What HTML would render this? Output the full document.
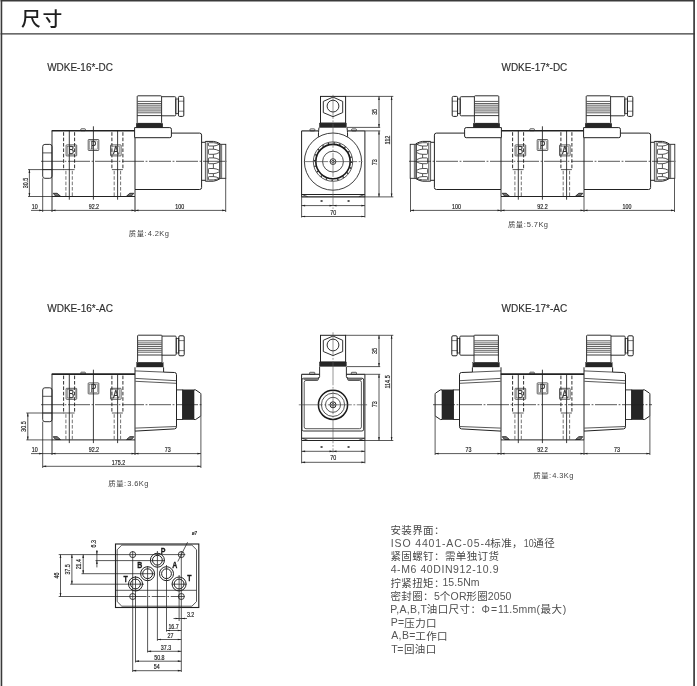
<!DOCTYPE html>
<html lang="zh"><head><meta charset="utf-8"><title>尺寸</title>
<style>
html,body{margin:0;padding:0;background:#fff;}
body{width:697px;height:686px;overflow:hidden;}
svg{display:block;filter:grayscale(1) blur(0.35px);}
text{font-family:"Liberation Sans","Noto Sans CJK SC",sans-serif;}
</style></head><body>
<svg width="697" height="686" viewBox="0 0 697 686">
<rect x="0" y="0" width="697" height="686" fill="#fff"/>
<line x1="1.45" y1="0" x2="1.45" y2="686" stroke="#3a3a3a" stroke-width="1.6"/>
<line x1="694.1" y1="0" x2="694.1" y2="686" stroke="#3a3a3a" stroke-width="1.7"/>
<line x1="0.6" y1="0.7" x2="694.9" y2="0.7" stroke="#3a3a3a" stroke-width="1.7"/>
<line x1="0.6" y1="33.8" x2="694.9" y2="33.8" stroke="#3a3a3a" stroke-width="1.2"/>
<text x="21" y="26" font-size="19.8" text-anchor="start" fill="#1e1e1e" font-weight="500" class="cjk" letter-spacing="1.8">尺寸</text>
<text x="47.2" y="70.7" font-size="10" text-anchor="start" fill="#2e2e2e" stroke="#2e2e2e" stroke-width="0.15" class="lat" textLength="65.8" lengthAdjust="spacingAndGlyphs">WDKE-16*-DC</text>
<text x="501.5" y="70.7" font-size="10" text-anchor="start" fill="#2e2e2e" stroke="#2e2e2e" stroke-width="0.15" class="lat" textLength="65.8" lengthAdjust="spacingAndGlyphs">WDKE-17*-DC</text>
<text x="47.2" y="311.7" font-size="10" text-anchor="start" fill="#2e2e2e" stroke="#2e2e2e" stroke-width="0.15" class="lat" textLength="65.8" lengthAdjust="spacingAndGlyphs">WDKE-16*-AC</text>
<text x="501.5" y="311.7" font-size="10" text-anchor="start" fill="#2e2e2e" stroke="#2e2e2e" stroke-width="0.15" class="lat" textLength="65.8" lengthAdjust="spacingAndGlyphs">WDKE-17*-AC</text>
<line x1="52" y1="130.7" x2="52" y2="196.5" stroke="#222" stroke-width="0.94"/>
<line x1="135" y1="189.5" x2="135" y2="196.5" stroke="#222" stroke-width="0.94"/>
<line x1="51.7" y1="130.7" x2="135" y2="130.7" stroke="#222" stroke-width="1.62"/>
<line x1="52" y1="196.5" x2="135" y2="196.5" stroke="#222" stroke-width="1"/>
<rect x="80.8" y="128.8" width="4.6" height="1.9" rx="0.6" stroke="#222" stroke-width="0.75" fill="none"/>
<line x1="63.6" y1="132.2" x2="63.6" y2="169.6" stroke="#222" stroke-width="0.94" stroke-dasharray="3.6 1.8"/>
<line x1="74.6" y1="132.2" x2="74.6" y2="169.6" stroke="#222" stroke-width="0.94" stroke-dasharray="3.6 1.8"/>
<line x1="65.9" y1="170.8" x2="65.9" y2="196.5" stroke="#444" stroke-width="0.75" stroke-dasharray="3.6 1.8"/>
<line x1="72.3" y1="170.8" x2="72.3" y2="196.5" stroke="#444" stroke-width="0.75" stroke-dasharray="3.6 1.8"/>
<line x1="63.6" y1="169.6" x2="74.6" y2="169.6" stroke="#222" stroke-width="0.75"/>
<line x1="69.3" y1="130.7" x2="69.3" y2="199.7" stroke="#222" stroke-width="0.88"/>
<line x1="111.9" y1="132.2" x2="111.9" y2="169.6" stroke="#222" stroke-width="0.94" stroke-dasharray="3.6 1.8"/>
<line x1="122.9" y1="132.2" x2="122.9" y2="169.6" stroke="#222" stroke-width="0.94" stroke-dasharray="3.6 1.8"/>
<line x1="114.2" y1="170.8" x2="114.2" y2="196.5" stroke="#444" stroke-width="0.75" stroke-dasharray="3.6 1.8"/>
<line x1="120.6" y1="170.8" x2="120.6" y2="196.5" stroke="#444" stroke-width="0.75" stroke-dasharray="3.6 1.8"/>
<line x1="111.9" y1="169.6" x2="122.9" y2="169.6" stroke="#222" stroke-width="0.75"/>
<line x1="117.6" y1="130.7" x2="117.6" y2="199.7" stroke="#222" stroke-width="0.88"/>
<line x1="93.4" y1="126.3" x2="93.4" y2="199.7" stroke="#222" stroke-width="0.88"/>
<rect x="66.1" y="144.9" width="10.6" height="11" rx="0.6" stroke="#2a2a2a" stroke-width="0.75" fill="none"/>
<rect x="67.5" y="146.3" width="7.8" height="8.2" stroke="#555" stroke-width="0.5" fill="none"/>
<text transform="translate(71.4 154.1) scale(0.8 1)" x="0" y="0" font-size="10.6" text-anchor="middle" fill="#333" stroke="#333" stroke-width="0.3" class="lat">B</text>
<rect x="88.2" y="139.5" width="10.6" height="11" rx="0.6" stroke="#2a2a2a" stroke-width="0.75" fill="none"/>
<rect x="89.6" y="140.9" width="7.8" height="8.2" stroke="#555" stroke-width="0.5" fill="none"/>
<text transform="translate(93.5 148.7) scale(0.8 1)" x="0" y="0" font-size="10.6" text-anchor="middle" fill="#333" stroke="#333" stroke-width="0.3" class="lat">P</text>
<rect x="110.5" y="144.9" width="10.6" height="11" rx="0.6" stroke="#2a2a2a" stroke-width="0.75" fill="none"/>
<rect x="111.9" y="146.3" width="7.8" height="8.2" stroke="#555" stroke-width="0.5" fill="none"/>
<text transform="translate(115.8 154.1) scale(0.8 1)" x="0" y="0" font-size="10.6" text-anchor="middle" fill="#333" stroke="#333" stroke-width="0.3" class="lat">A</text>
<path d="M53.2 193.3 L57.2 193.3 L60.4 196.1 L55.6 196.1 Z" stroke="#222" stroke-width="0.88" fill="#777"/>
<path d="M133.8 193.3 L129.8 193.3 L126.6 196.1 L131.4 196.1 Z" stroke="#222" stroke-width="0.88" fill="#777"/>
<rect x="42.7" y="144.4" width="9.3" height="33.9" rx="2.2" stroke="#222" stroke-width="0.94" fill="none"/>
<line x1="42.7" y1="152.9" x2="52" y2="152.9" stroke="#222" stroke-width="0.75"/>
<line x1="42.7" y1="169.6" x2="52" y2="169.6" stroke="#222" stroke-width="0.75"/>
<g transform="translate(135 161.3) scale(1 1)">
<path d="M0 -23.6 L0 28.2 L64.6 28.2 Q66.6 28.2 66.6 26.2 L66.6 -26.2 Q66.6 -28.2 64.6 -28.2 L36.4 -28.2" stroke="#222" stroke-width="1" fill="none"/>
<path d="M-0.4 -33.7 L34.8 -33.7 Q36.4 -33.7 36.4 -32 L36.4 -25.3 Q36.4 -23.6 34.8 -23.6 L-0.4 -23.6 Z" stroke="#222" stroke-width="1" fill="#fff"/>
<g transform="translate(66.6 0)">
<path d="M0 -19 L3.8 -19 L3.8 -19.9 L11.8 -19.9 Q15.5 -19.4 18.4 -17.6 L18.4 17.4 Q15.5 19.4 11.8 19.9 L3.8 19.9 L3.8 19 L0 19" stroke="#222" stroke-width="1" fill="none"/>
<line x1="3.8" y1="-19" x2="3.8" y2="19" stroke="#222" stroke-width="0.75"/>
<line x1="5.6" y1="-19" x2="5.6" y2="19" stroke="#222" stroke-width="0.75"/>
<rect x="18.4" y="-17" width="5.8" height="34" stroke="#222" stroke-width="0.88" fill="none"/>
<rect x="18.4" y="-17" width="1.9" height="34" stroke="#222" stroke-width="0.38" fill="#999"/>
<path d="M17.6 -16.9 Q14.5 -18.6 11.8 -18.6 L7.6 -18.6 Q6.8 -18.6 6.8 -17.8 L6.8 -16.1 Q6.8 -15.3 7.6 -15.3 L11.8 -15.3 Q14.5 -15.3 17.6 -17" stroke="#222" stroke-width="0.78" fill="none"/>
<path d="M17.6 -10.4 Q14.5 -12.1 11.8 -12.1 L7.6 -12.1 Q6.8 -12.1 6.8 -11.3 L6.8 -7.8 Q6.8 -7 7.6 -7 L11.8 -7 Q14.5 -7 17.6 -8.7" stroke="#222" stroke-width="0.78" fill="none"/>
<path d="M17.6 -1.7 Q14.5 -3.4 11.8 -3.4 L7.6 -3.4 Q6.8 -3.4 6.8 -2.6 L6.8 1.6 Q6.8 2.4 7.6 2.4 L11.8 2.4 Q14.5 2.4 17.6 0.7" stroke="#222" stroke-width="0.78" fill="none"/>
<path d="M17.6 8.9 Q14.5 7.2 11.8 7.2 L7.6 7.2 Q6.8 7.2 6.8 8 L6.8 11.5 Q6.8 12.3 7.6 12.3 L11.8 12.3 Q14.5 12.3 17.6 10.6" stroke="#222" stroke-width="0.78" fill="none"/>
<path d="M17.6 17 Q14.5 15.3 11.8 15.3 L7.6 15.3 Q6.8 15.3 6.8 16.1 L6.8 17.8 Q6.8 18.6 7.6 18.6 L11.8 18.6 Q14.5 18.6 17.6 16.9" stroke="#222" stroke-width="0.78" fill="none"/>
<line x1="11.8" y1="-15.3" x2="11.8" y2="-12.1" stroke="#222" stroke-width="0.75"/>
<line x1="11.8" y1="-7" x2="11.8" y2="-3.4" stroke="#222" stroke-width="0.75"/>
<line x1="11.8" y1="2.4" x2="11.8" y2="7.2" stroke="#222" stroke-width="0.75"/>
<line x1="11.8" y1="12.3" x2="11.8" y2="15.3" stroke="#222" stroke-width="0.75"/>
</g>
</g>
<g transform="translate(137.2 95.8) scale(1 1)">
<rect x="0" y="0" width="24.4" height="27.6" rx="0.8" stroke="#222" stroke-width="0.94" fill="none"/>
<line x1="0.3" y1="5.6" x2="24.1" y2="5.6" stroke="#333" stroke-width="0.78"/>
<line x1="0.3" y1="7.7" x2="24.1" y2="7.7" stroke="#333" stroke-width="0.78"/>
<line x1="0.3" y1="9.4" x2="24.1" y2="9.4" stroke="#333" stroke-width="0.78"/>
<line x1="0.3" y1="11.3" x2="24.1" y2="11.3" stroke="#333" stroke-width="0.78"/>
<line x1="0.3" y1="13.2" x2="24.1" y2="13.2" stroke="#333" stroke-width="0.78"/>
<line x1="0.3" y1="15.1" x2="24.1" y2="15.1" stroke="#333" stroke-width="0.78"/>
<line x1="0.3" y1="17" x2="24.1" y2="17" stroke="#333" stroke-width="0.78"/>
<line x1="0" y1="19.8" x2="24.4" y2="19.8" stroke="#222" stroke-width="0.88"/>
<rect x="-1" y="27.6" width="26.6" height="4.2" stroke="#222" stroke-width="0.38" fill="#262626"/>
<path d="M24.4 0.9 L37.6 0.9 Q38.6 0.9 38.6 1.9 L38.6 19 Q38.6 20 37.6 20 L24.4 20" stroke="#222" stroke-width="0.94" fill="none"/>
<rect x="38.6" y="3.2" width="2.6" height="14.6" stroke="#222" stroke-width="0.75" fill="none"/>
<rect x="41.2" y="0.6" width="5.4" height="20" rx="1.2" stroke="#222" stroke-width="1" fill="none"/>
<line x1="41.2" y1="5.4" x2="46.6" y2="5.4" stroke="#222" stroke-width="0.62"/>
<line x1="41.2" y1="15.4" x2="46.6" y2="15.4" stroke="#222" stroke-width="0.62"/>
</g>
<line x1="41" y1="161.3" x2="227" y2="161.3" stroke="#222" stroke-width="0.75" stroke-dasharray="22 1.6 1.8 1.6"/>
<line x1="28" y1="169.6" x2="64" y2="169.6" stroke="#222" stroke-width="0.75"/>
<line x1="28" y1="196.5" x2="52" y2="196.5" stroke="#222" stroke-width="0.75"/>
<line x1="29.4" y1="169.6" x2="29.4" y2="196.5" stroke="#222" stroke-width="0.75"/>
<polygon points="29.4,169.6 28.55,173.1 30.25,173.1" fill="#222"/>
<polygon points="29.4,196.5 28.55,193 30.25,193" fill="#222"/>
<text x="27.6" y="183.05" font-size="6.5" text-anchor="middle" fill="#1c1c1c" stroke="#1c1c1c" stroke-width="0.18" class="dim" transform="rotate(-90 27.6 183.05)" textLength="10.37" lengthAdjust="spacingAndGlyphs">30.5</text>
<line x1="42.7" y1="178.3" x2="42.7" y2="212" stroke="#222" stroke-width="0.75"/>
<line x1="52" y1="196.5" x2="52" y2="212" stroke="#222" stroke-width="0.94"/>
<line x1="135" y1="196.5" x2="135" y2="212" stroke="#222" stroke-width="0.94"/>
<line x1="225.7" y1="178.3" x2="225.7" y2="212" stroke="#222" stroke-width="0.75"/>
<line x1="31" y1="210.4" x2="225.7" y2="210.4" stroke="#222" stroke-width="0.75"/>
<polygon points="42.7,210.4 39.2,209.55 39.2,211.25" fill="#222"/>
<polygon points="52,210.4 55.5,209.55 55.5,211.25" fill="#222"/>
<polygon points="135,210.4 131.5,209.55 131.5,211.25" fill="#222"/>
<polygon points="135,210.4 138.5,209.55 138.5,211.25" fill="#222"/>
<polygon points="225.7,210.4 222.2,209.55 222.2,211.25" fill="#222"/>
<text x="34.8" y="208.7" font-size="6.5" text-anchor="middle" fill="#1c1c1c" stroke="#1c1c1c" stroke-width="0.18" class="dim" textLength="5.93" lengthAdjust="spacingAndGlyphs">10</text>
<text x="93.9" y="208.7" font-size="6.5" text-anchor="middle" fill="#1c1c1c" stroke="#1c1c1c" stroke-width="0.18" class="dim" textLength="10.37" lengthAdjust="spacingAndGlyphs">92.2</text>
<text x="179.8" y="208.7" font-size="6.5" text-anchor="middle" fill="#1c1c1c" stroke="#1c1c1c" stroke-width="0.18" class="dim" textLength="8.89" lengthAdjust="spacingAndGlyphs">100</text>
<text font-size="7.4" text-anchor="start" class="note"><tspan x="128.75" y="235.6" font-size="7.3" fill="#3a3a3a" textLength="15.2" lengthAdjust="spacing">质量</tspan><tspan x="144.55" y="235.6" font-size="7.5" fill="#444">: </tspan><tspan x="147.65" y="235.6" font-size="7.5" fill="#444" textLength="21.2" lengthAdjust="spacing">4.2Kg</tspan></text>
<rect x="320.5" y="96.4" width="25.1" height="26.7" stroke="#222" stroke-width="1" fill="none"/>
<rect x="319.4" y="123.1" width="27" height="4.4" stroke="#222" stroke-width="0.38" fill="#262626"/>
<polygon points="333,97.1 342.7,101.4 342.7,112.6 333,116.7 323.3,112.6 323.3,101.4" fill="none" stroke="#222" stroke-width="0.94" stroke-linejoin="round"/>
<circle cx="333" cy="106.1" r="5.9" stroke="#222" stroke-width="0.94" fill="none"/>
<line x1="301.6" y1="130.9" x2="301.6" y2="196.9" stroke="#222" stroke-width="1"/>
<line x1="364.9" y1="130.9" x2="364.9" y2="196.9" stroke="#222" stroke-width="1"/>
<line x1="301.6" y1="130.9" x2="318.6" y2="130.9" stroke="#222" stroke-width="1.12"/>
<line x1="347.4" y1="130.9" x2="364.9" y2="130.9" stroke="#222" stroke-width="1.12"/>
<line x1="301.6" y1="194.5" x2="364.9" y2="194.5" stroke="#222" stroke-width="1"/>
<line x1="301.6" y1="196.9" x2="364.9" y2="196.9" stroke="#222" stroke-width="1.12"/>
<rect x="310" y="128.9" width="4.8" height="2" rx="0.6" stroke="#222" stroke-width="0.75" fill="none"/>
<rect x="351.6" y="128.9" width="4.8" height="2" rx="0.6" stroke="#222" stroke-width="0.75" fill="none"/>
<path d="M319 127.6 Q318.6 130.6 318.5 132.6 L318.4 136.8" stroke="#222" stroke-width="1" fill="none"/>
<path d="M347 127.6 Q347.4 130.6 347.5 132.6 L347.6 136.8" stroke="#222" stroke-width="1" fill="none"/>
<circle cx="333" cy="161.6" r="28.6" stroke="#222" stroke-width="0.88" fill="none"/>
<circle cx="333" cy="161.6" r="19.7" stroke="#222" stroke-width="0.75" fill="none"/>
<circle cx="333" cy="161.6" r="18.6" fill="none" stroke="#333" stroke-width="1.5" stroke-dasharray="1.4 4.44"/>
<circle cx="333" cy="161.6" r="17.2" stroke="#1a1a1a" stroke-width="1.62" fill="none"/>
<circle cx="333" cy="161.6" r="10.4" stroke="#222" stroke-width="0.81" fill="none"/>
<circle cx="333" cy="161.6" r="2.9" stroke="#222" stroke-width="0.88" fill="none"/>
<circle cx="333" cy="161.6" r="1.3" stroke="#222" stroke-width="0.75" fill="none"/>
<line x1="333" y1="94.8" x2="333" y2="208.9" stroke="#555" stroke-width="0.62" stroke-dasharray="24 1.6 1.8 1.6"/>
<line x1="304.1" y1="161.6" x2="362.4" y2="161.6" stroke="#444" stroke-width="0.69" stroke-dasharray="24 1.6 1.8 1.6"/>
<path d="M302.6 194.8 L307.6 196.6" stroke="#222" stroke-width="0.75" fill="none"/>
<path d="M363.9 194.8 L358.9 196.6" stroke="#222" stroke-width="0.75" fill="none"/>
<line x1="345.5" y1="96.4" x2="393.3" y2="96.4" stroke="#222" stroke-width="0.75"/>
<line x1="346.8" y1="127.4" x2="380.2" y2="127.4" stroke="#222" stroke-width="0.75"/>
<line x1="364.9" y1="130.9" x2="380.2" y2="130.9" stroke="#222" stroke-width="0.75"/>
<line x1="364.9" y1="196.9" x2="393.3" y2="196.9" stroke="#222" stroke-width="0.75"/>
<line x1="379" y1="96.4" x2="379" y2="127.4" stroke="#222" stroke-width="0.75"/>
<polygon points="379,96.4 378.15,99.9 379.85,99.9" fill="#222"/>
<polygon points="379,127.4 378.15,123.9 379.85,123.9" fill="#222"/>
<text x="376.8" y="111.9" font-size="6.5" text-anchor="middle" fill="#1c1c1c" stroke="#1c1c1c" stroke-width="0.18" class="dim" transform="rotate(-90 376.8 111.9)" textLength="5.93" lengthAdjust="spacingAndGlyphs">35</text>
<line x1="379" y1="130.9" x2="379" y2="196.9" stroke="#222" stroke-width="0.75"/>
<polygon points="379,130.9 378.15,134.4 379.85,134.4" fill="#222"/>
<polygon points="379,196.9 378.15,193.4 379.85,193.4" fill="#222"/>
<text x="376.8" y="162.3" font-size="6.5" text-anchor="middle" fill="#1c1c1c" stroke="#1c1c1c" stroke-width="0.18" class="dim" transform="rotate(-90 376.8 162.3)" textLength="5.93" lengthAdjust="spacingAndGlyphs">73</text>
<line x1="391.6" y1="96.4" x2="391.6" y2="196.9" stroke="#222" stroke-width="0.75"/>
<polygon points="391.6,96.4 390.75,99.9 392.45,99.9" fill="#222"/>
<polygon points="391.6,196.9 390.75,193.4 392.45,193.4" fill="#222"/>
<text x="389.6" y="140.05" font-size="6.5" text-anchor="middle" fill="#1c1c1c" stroke="#1c1c1c" stroke-width="0.18" class="dim" transform="rotate(-90 389.6 140.05)" textLength="8.89" lengthAdjust="spacingAndGlyphs">112</text>
<line x1="301.6" y1="196.9" x2="301.6" y2="217.5" stroke="#222" stroke-width="0.75"/>
<line x1="364.9" y1="196.9" x2="364.9" y2="217.5" stroke="#222" stroke-width="0.75"/>
<line x1="301.6" y1="205.6" x2="364.9" y2="205.6" stroke="#222" stroke-width="0.75"/>
<polygon points="301.6,205.6 305.1,204.75 305.1,206.45" fill="#222"/>
<polygon points="364.9,205.6 361.4,204.75 361.4,206.45" fill="#222"/>
<polygon points="333,205.6 336.5,204.75 336.5,206.45" fill="#222"/>
<polygon points="333,205.6 329.5,204.75 329.5,206.45" fill="#222"/>
<text x="321.6" y="203.2" font-size="4.5" text-anchor="middle" fill="#1c1c1c" stroke="#1c1c1c" stroke-width="0.18" class="dim" textLength="2.15" lengthAdjust="spacingAndGlyphs">=</text>
<text x="348.6" y="203.2" font-size="4.5" text-anchor="middle" fill="#1c1c1c" stroke="#1c1c1c" stroke-width="0.18" class="dim" textLength="2.15" lengthAdjust="spacingAndGlyphs">=</text>
<line x1="301.6" y1="216.5" x2="364.9" y2="216.5" stroke="#222" stroke-width="0.75"/>
<polygon points="301.6,216.5 305.1,215.65 305.1,217.35" fill="#222"/>
<polygon points="364.9,216.5 361.4,215.65 361.4,217.35" fill="#222"/>
<text x="333.25" y="214.5" font-size="6.5" text-anchor="middle" fill="#1c1c1c" stroke="#1c1c1c" stroke-width="0.18" class="dim" textLength="5.93" lengthAdjust="spacingAndGlyphs">70</text>
<line x1="501" y1="189.5" x2="501" y2="196.5" stroke="#222" stroke-width="0.94"/>
<line x1="584" y1="189.5" x2="584" y2="196.5" stroke="#222" stroke-width="0.94"/>
<line x1="500.7" y1="130.7" x2="584" y2="130.7" stroke="#222" stroke-width="1.62"/>
<line x1="501" y1="196.5" x2="584" y2="196.5" stroke="#222" stroke-width="1"/>
<rect x="529.8" y="128.8" width="4.6" height="1.9" rx="0.6" stroke="#222" stroke-width="0.75" fill="none"/>
<line x1="512.6" y1="132.2" x2="512.6" y2="169.6" stroke="#222" stroke-width="0.94" stroke-dasharray="3.6 1.8"/>
<line x1="523.6" y1="132.2" x2="523.6" y2="169.6" stroke="#222" stroke-width="0.94" stroke-dasharray="3.6 1.8"/>
<line x1="514.9" y1="170.8" x2="514.9" y2="196.5" stroke="#444" stroke-width="0.75" stroke-dasharray="3.6 1.8"/>
<line x1="521.3" y1="170.8" x2="521.3" y2="196.5" stroke="#444" stroke-width="0.75" stroke-dasharray="3.6 1.8"/>
<line x1="512.6" y1="169.6" x2="523.6" y2="169.6" stroke="#222" stroke-width="0.75"/>
<line x1="518.3" y1="130.7" x2="518.3" y2="199.7" stroke="#222" stroke-width="0.88"/>
<line x1="560.9" y1="132.2" x2="560.9" y2="169.6" stroke="#222" stroke-width="0.94" stroke-dasharray="3.6 1.8"/>
<line x1="571.9" y1="132.2" x2="571.9" y2="169.6" stroke="#222" stroke-width="0.94" stroke-dasharray="3.6 1.8"/>
<line x1="563.2" y1="170.8" x2="563.2" y2="196.5" stroke="#444" stroke-width="0.75" stroke-dasharray="3.6 1.8"/>
<line x1="569.6" y1="170.8" x2="569.6" y2="196.5" stroke="#444" stroke-width="0.75" stroke-dasharray="3.6 1.8"/>
<line x1="560.9" y1="169.6" x2="571.9" y2="169.6" stroke="#222" stroke-width="0.75"/>
<line x1="566.6" y1="130.7" x2="566.6" y2="199.7" stroke="#222" stroke-width="0.88"/>
<line x1="542.4" y1="126.3" x2="542.4" y2="199.7" stroke="#222" stroke-width="0.88"/>
<rect x="515.1" y="144.9" width="10.6" height="11" rx="0.6" stroke="#2a2a2a" stroke-width="0.75" fill="none"/>
<rect x="516.5" y="146.3" width="7.8" height="8.2" stroke="#555" stroke-width="0.5" fill="none"/>
<text transform="translate(520.4 154.1) scale(0.8 1)" x="0" y="0" font-size="10.6" text-anchor="middle" fill="#333" stroke="#333" stroke-width="0.3" class="lat">B</text>
<rect x="537.2" y="139.5" width="10.6" height="11" rx="0.6" stroke="#2a2a2a" stroke-width="0.75" fill="none"/>
<rect x="538.6" y="140.9" width="7.8" height="8.2" stroke="#555" stroke-width="0.5" fill="none"/>
<text transform="translate(542.5 148.7) scale(0.8 1)" x="0" y="0" font-size="10.6" text-anchor="middle" fill="#333" stroke="#333" stroke-width="0.3" class="lat">P</text>
<rect x="559.5" y="144.9" width="10.6" height="11" rx="0.6" stroke="#2a2a2a" stroke-width="0.75" fill="none"/>
<rect x="560.9" y="146.3" width="7.8" height="8.2" stroke="#555" stroke-width="0.5" fill="none"/>
<text transform="translate(564.8 154.1) scale(0.8 1)" x="0" y="0" font-size="10.6" text-anchor="middle" fill="#333" stroke="#333" stroke-width="0.3" class="lat">A</text>
<path d="M502.2 193.3 L506.2 193.3 L509.4 196.1 L504.6 196.1 Z" stroke="#222" stroke-width="0.88" fill="#777"/>
<path d="M582.8 193.3 L578.8 193.3 L575.6 196.1 L580.4 196.1 Z" stroke="#222" stroke-width="0.88" fill="#777"/>
<g transform="translate(501 161.3) scale(-1 1)">
<path d="M0 -23.6 L0 28.2 L64.6 28.2 Q66.6 28.2 66.6 26.2 L66.6 -26.2 Q66.6 -28.2 64.6 -28.2 L36.4 -28.2" stroke="#222" stroke-width="1" fill="none"/>
<path d="M-0.4 -33.7 L34.8 -33.7 Q36.4 -33.7 36.4 -32 L36.4 -25.3 Q36.4 -23.6 34.8 -23.6 L-0.4 -23.6 Z" stroke="#222" stroke-width="1" fill="#fff"/>
<g transform="translate(66.6 0)">
<path d="M0 -19 L3.8 -19 L3.8 -19.9 L11.8 -19.9 Q15.5 -19.4 18.4 -17.6 L18.4 17.4 Q15.5 19.4 11.8 19.9 L3.8 19.9 L3.8 19 L0 19" stroke="#222" stroke-width="1" fill="none"/>
<line x1="3.8" y1="-19" x2="3.8" y2="19" stroke="#222" stroke-width="0.75"/>
<line x1="5.6" y1="-19" x2="5.6" y2="19" stroke="#222" stroke-width="0.75"/>
<rect x="18.4" y="-17" width="5.8" height="34" stroke="#222" stroke-width="0.88" fill="none"/>
<rect x="18.4" y="-17" width="1.9" height="34" stroke="#222" stroke-width="0.38" fill="#999"/>
<path d="M17.6 -16.9 Q14.5 -18.6 11.8 -18.6 L7.6 -18.6 Q6.8 -18.6 6.8 -17.8 L6.8 -16.1 Q6.8 -15.3 7.6 -15.3 L11.8 -15.3 Q14.5 -15.3 17.6 -17" stroke="#222" stroke-width="0.78" fill="none"/>
<path d="M17.6 -10.4 Q14.5 -12.1 11.8 -12.1 L7.6 -12.1 Q6.8 -12.1 6.8 -11.3 L6.8 -7.8 Q6.8 -7 7.6 -7 L11.8 -7 Q14.5 -7 17.6 -8.7" stroke="#222" stroke-width="0.78" fill="none"/>
<path d="M17.6 -1.7 Q14.5 -3.4 11.8 -3.4 L7.6 -3.4 Q6.8 -3.4 6.8 -2.6 L6.8 1.6 Q6.8 2.4 7.6 2.4 L11.8 2.4 Q14.5 2.4 17.6 0.7" stroke="#222" stroke-width="0.78" fill="none"/>
<path d="M17.6 8.9 Q14.5 7.2 11.8 7.2 L7.6 7.2 Q6.8 7.2 6.8 8 L6.8 11.5 Q6.8 12.3 7.6 12.3 L11.8 12.3 Q14.5 12.3 17.6 10.6" stroke="#222" stroke-width="0.78" fill="none"/>
<path d="M17.6 17 Q14.5 15.3 11.8 15.3 L7.6 15.3 Q6.8 15.3 6.8 16.1 L6.8 17.8 Q6.8 18.6 7.6 18.6 L11.8 18.6 Q14.5 18.6 17.6 16.9" stroke="#222" stroke-width="0.78" fill="none"/>
<line x1="11.8" y1="-15.3" x2="11.8" y2="-12.1" stroke="#222" stroke-width="0.75"/>
<line x1="11.8" y1="-7" x2="11.8" y2="-3.4" stroke="#222" stroke-width="0.75"/>
<line x1="11.8" y1="2.4" x2="11.8" y2="7.2" stroke="#222" stroke-width="0.75"/>
<line x1="11.8" y1="12.3" x2="11.8" y2="15.3" stroke="#222" stroke-width="0.75"/>
</g>
</g>
<g transform="translate(498.8 95.8) scale(-1 1)">
<rect x="0" y="0" width="24.4" height="27.6" rx="0.8" stroke="#222" stroke-width="0.94" fill="none"/>
<line x1="0.3" y1="5.6" x2="24.1" y2="5.6" stroke="#333" stroke-width="0.78"/>
<line x1="0.3" y1="7.7" x2="24.1" y2="7.7" stroke="#333" stroke-width="0.78"/>
<line x1="0.3" y1="9.4" x2="24.1" y2="9.4" stroke="#333" stroke-width="0.78"/>
<line x1="0.3" y1="11.3" x2="24.1" y2="11.3" stroke="#333" stroke-width="0.78"/>
<line x1="0.3" y1="13.2" x2="24.1" y2="13.2" stroke="#333" stroke-width="0.78"/>
<line x1="0.3" y1="15.1" x2="24.1" y2="15.1" stroke="#333" stroke-width="0.78"/>
<line x1="0.3" y1="17" x2="24.1" y2="17" stroke="#333" stroke-width="0.78"/>
<line x1="0" y1="19.8" x2="24.4" y2="19.8" stroke="#222" stroke-width="0.88"/>
<rect x="-1" y="27.6" width="26.6" height="4.2" stroke="#222" stroke-width="0.38" fill="#262626"/>
<path d="M24.4 0.9 L37.6 0.9 Q38.6 0.9 38.6 1.9 L38.6 19 Q38.6 20 37.6 20 L24.4 20" stroke="#222" stroke-width="0.94" fill="none"/>
<rect x="38.6" y="3.2" width="2.6" height="14.6" stroke="#222" stroke-width="0.75" fill="none"/>
<rect x="41.2" y="0.6" width="5.4" height="20" rx="1.2" stroke="#222" stroke-width="1" fill="none"/>
<line x1="41.2" y1="5.4" x2="46.6" y2="5.4" stroke="#222" stroke-width="0.62"/>
<line x1="41.2" y1="15.4" x2="46.6" y2="15.4" stroke="#222" stroke-width="0.62"/>
</g>
<g transform="translate(584 161.3) scale(1 1)">
<path d="M0 -23.6 L0 28.2 L64.6 28.2 Q66.6 28.2 66.6 26.2 L66.6 -26.2 Q66.6 -28.2 64.6 -28.2 L36.4 -28.2" stroke="#222" stroke-width="1" fill="none"/>
<path d="M-0.4 -33.7 L34.8 -33.7 Q36.4 -33.7 36.4 -32 L36.4 -25.3 Q36.4 -23.6 34.8 -23.6 L-0.4 -23.6 Z" stroke="#222" stroke-width="1" fill="#fff"/>
<g transform="translate(66.6 0)">
<path d="M0 -19 L3.8 -19 L3.8 -19.9 L11.8 -19.9 Q15.5 -19.4 18.4 -17.6 L18.4 17.4 Q15.5 19.4 11.8 19.9 L3.8 19.9 L3.8 19 L0 19" stroke="#222" stroke-width="1" fill="none"/>
<line x1="3.8" y1="-19" x2="3.8" y2="19" stroke="#222" stroke-width="0.75"/>
<line x1="5.6" y1="-19" x2="5.6" y2="19" stroke="#222" stroke-width="0.75"/>
<rect x="18.4" y="-17" width="5.8" height="34" stroke="#222" stroke-width="0.88" fill="none"/>
<rect x="18.4" y="-17" width="1.9" height="34" stroke="#222" stroke-width="0.38" fill="#999"/>
<path d="M17.6 -16.9 Q14.5 -18.6 11.8 -18.6 L7.6 -18.6 Q6.8 -18.6 6.8 -17.8 L6.8 -16.1 Q6.8 -15.3 7.6 -15.3 L11.8 -15.3 Q14.5 -15.3 17.6 -17" stroke="#222" stroke-width="0.78" fill="none"/>
<path d="M17.6 -10.4 Q14.5 -12.1 11.8 -12.1 L7.6 -12.1 Q6.8 -12.1 6.8 -11.3 L6.8 -7.8 Q6.8 -7 7.6 -7 L11.8 -7 Q14.5 -7 17.6 -8.7" stroke="#222" stroke-width="0.78" fill="none"/>
<path d="M17.6 -1.7 Q14.5 -3.4 11.8 -3.4 L7.6 -3.4 Q6.8 -3.4 6.8 -2.6 L6.8 1.6 Q6.8 2.4 7.6 2.4 L11.8 2.4 Q14.5 2.4 17.6 0.7" stroke="#222" stroke-width="0.78" fill="none"/>
<path d="M17.6 8.9 Q14.5 7.2 11.8 7.2 L7.6 7.2 Q6.8 7.2 6.8 8 L6.8 11.5 Q6.8 12.3 7.6 12.3 L11.8 12.3 Q14.5 12.3 17.6 10.6" stroke="#222" stroke-width="0.78" fill="none"/>
<path d="M17.6 17 Q14.5 15.3 11.8 15.3 L7.6 15.3 Q6.8 15.3 6.8 16.1 L6.8 17.8 Q6.8 18.6 7.6 18.6 L11.8 18.6 Q14.5 18.6 17.6 16.9" stroke="#222" stroke-width="0.78" fill="none"/>
<line x1="11.8" y1="-15.3" x2="11.8" y2="-12.1" stroke="#222" stroke-width="0.75"/>
<line x1="11.8" y1="-7" x2="11.8" y2="-3.4" stroke="#222" stroke-width="0.75"/>
<line x1="11.8" y1="2.4" x2="11.8" y2="7.2" stroke="#222" stroke-width="0.75"/>
<line x1="11.8" y1="12.3" x2="11.8" y2="15.3" stroke="#222" stroke-width="0.75"/>
</g>
</g>
<g transform="translate(586.2 95.8) scale(1 1)">
<rect x="0" y="0" width="24.4" height="27.6" rx="0.8" stroke="#222" stroke-width="0.94" fill="none"/>
<line x1="0.3" y1="5.6" x2="24.1" y2="5.6" stroke="#333" stroke-width="0.78"/>
<line x1="0.3" y1="7.7" x2="24.1" y2="7.7" stroke="#333" stroke-width="0.78"/>
<line x1="0.3" y1="9.4" x2="24.1" y2="9.4" stroke="#333" stroke-width="0.78"/>
<line x1="0.3" y1="11.3" x2="24.1" y2="11.3" stroke="#333" stroke-width="0.78"/>
<line x1="0.3" y1="13.2" x2="24.1" y2="13.2" stroke="#333" stroke-width="0.78"/>
<line x1="0.3" y1="15.1" x2="24.1" y2="15.1" stroke="#333" stroke-width="0.78"/>
<line x1="0.3" y1="17" x2="24.1" y2="17" stroke="#333" stroke-width="0.78"/>
<line x1="0" y1="19.8" x2="24.4" y2="19.8" stroke="#222" stroke-width="0.88"/>
<rect x="-1" y="27.6" width="26.6" height="4.2" stroke="#222" stroke-width="0.38" fill="#262626"/>
<path d="M24.4 0.9 L37.6 0.9 Q38.6 0.9 38.6 1.9 L38.6 19 Q38.6 20 37.6 20 L24.4 20" stroke="#222" stroke-width="0.94" fill="none"/>
<rect x="38.6" y="3.2" width="2.6" height="14.6" stroke="#222" stroke-width="0.75" fill="none"/>
<rect x="41.2" y="0.6" width="5.4" height="20" rx="1.2" stroke="#222" stroke-width="1" fill="none"/>
<line x1="41.2" y1="5.4" x2="46.6" y2="5.4" stroke="#222" stroke-width="0.62"/>
<line x1="41.2" y1="15.4" x2="46.6" y2="15.4" stroke="#222" stroke-width="0.62"/>
</g>
<line x1="409" y1="161.3" x2="676" y2="161.3" stroke="#222" stroke-width="0.75" stroke-dasharray="22 1.6 1.8 1.6"/>
<line x1="410.5" y1="178.3" x2="410.5" y2="212" stroke="#222" stroke-width="0.75"/>
<line x1="501" y1="196.5" x2="501" y2="212" stroke="#222" stroke-width="0.75"/>
<line x1="584" y1="196.5" x2="584" y2="212" stroke="#222" stroke-width="0.75"/>
<line x1="674.5" y1="178.3" x2="674.5" y2="212" stroke="#222" stroke-width="0.75"/>
<line x1="410.5" y1="210.4" x2="674.5" y2="210.4" stroke="#222" stroke-width="0.75"/>
<polygon points="410.5,210.4 414,209.55 414,211.25" fill="#222"/>
<polygon points="501,210.4 497.5,209.55 497.5,211.25" fill="#222"/>
<polygon points="501,210.4 504.5,209.55 504.5,211.25" fill="#222"/>
<polygon points="584,210.4 580.5,209.55 580.5,211.25" fill="#222"/>
<polygon points="584,210.4 587.5,209.55 587.5,211.25" fill="#222"/>
<polygon points="674.5,210.4 671,209.55 671,211.25" fill="#222"/>
<text x="456.5" y="208.7" font-size="6.5" text-anchor="middle" fill="#1c1c1c" stroke="#1c1c1c" stroke-width="0.18" class="dim" textLength="8.89" lengthAdjust="spacingAndGlyphs">100</text>
<text x="542.5" y="208.7" font-size="6.5" text-anchor="middle" fill="#1c1c1c" stroke="#1c1c1c" stroke-width="0.18" class="dim" textLength="10.37" lengthAdjust="spacingAndGlyphs">92.2</text>
<text x="627" y="208.7" font-size="6.5" text-anchor="middle" fill="#1c1c1c" stroke="#1c1c1c" stroke-width="0.18" class="dim" textLength="8.89" lengthAdjust="spacingAndGlyphs">100</text>
<text font-size="7.4" text-anchor="start" class="note"><tspan x="507.9" y="227.2" font-size="7.3" fill="#3a3a3a" textLength="15.2" lengthAdjust="spacing">质量</tspan><tspan x="523.7" y="227.2" font-size="7.5" fill="#444">: </tspan><tspan x="526.8" y="227.2" font-size="7.5" fill="#444" textLength="21.2" lengthAdjust="spacing">5.7Kg</tspan></text>
<line x1="52" y1="374.1" x2="52" y2="439.9" stroke="#222" stroke-width="0.94"/>
<line x1="135" y1="431.1" x2="135" y2="439.9" stroke="#222" stroke-width="0.94"/>
<line x1="51.7" y1="374.1" x2="135" y2="374.1" stroke="#222" stroke-width="1.62"/>
<line x1="52" y1="439.9" x2="135" y2="439.9" stroke="#222" stroke-width="1"/>
<rect x="80.8" y="372.2" width="4.6" height="1.9" rx="0.6" stroke="#222" stroke-width="0.75" fill="none"/>
<line x1="63.6" y1="375.6" x2="63.6" y2="413" stroke="#222" stroke-width="0.94" stroke-dasharray="3.6 1.8"/>
<line x1="74.6" y1="375.6" x2="74.6" y2="413" stroke="#222" stroke-width="0.94" stroke-dasharray="3.6 1.8"/>
<line x1="65.9" y1="414.2" x2="65.9" y2="439.9" stroke="#444" stroke-width="0.75" stroke-dasharray="3.6 1.8"/>
<line x1="72.3" y1="414.2" x2="72.3" y2="439.9" stroke="#444" stroke-width="0.75" stroke-dasharray="3.6 1.8"/>
<line x1="63.6" y1="413" x2="74.6" y2="413" stroke="#222" stroke-width="0.75"/>
<line x1="69.3" y1="374.1" x2="69.3" y2="443.1" stroke="#222" stroke-width="0.88"/>
<line x1="111.9" y1="375.6" x2="111.9" y2="413" stroke="#222" stroke-width="0.94" stroke-dasharray="3.6 1.8"/>
<line x1="122.9" y1="375.6" x2="122.9" y2="413" stroke="#222" stroke-width="0.94" stroke-dasharray="3.6 1.8"/>
<line x1="114.2" y1="414.2" x2="114.2" y2="439.9" stroke="#444" stroke-width="0.75" stroke-dasharray="3.6 1.8"/>
<line x1="120.6" y1="414.2" x2="120.6" y2="439.9" stroke="#444" stroke-width="0.75" stroke-dasharray="3.6 1.8"/>
<line x1="111.9" y1="413" x2="122.9" y2="413" stroke="#222" stroke-width="0.75"/>
<line x1="117.6" y1="374.1" x2="117.6" y2="443.1" stroke="#222" stroke-width="0.88"/>
<line x1="93.4" y1="369.7" x2="93.4" y2="443.1" stroke="#222" stroke-width="0.88"/>
<rect x="66.1" y="388.3" width="10.6" height="11" rx="0.6" stroke="#2a2a2a" stroke-width="0.75" fill="none"/>
<rect x="67.5" y="389.7" width="7.8" height="8.2" stroke="#555" stroke-width="0.5" fill="none"/>
<text transform="translate(71.4 397.5) scale(0.8 1)" x="0" y="0" font-size="10.6" text-anchor="middle" fill="#333" stroke="#333" stroke-width="0.3" class="lat">B</text>
<rect x="88.2" y="382.9" width="10.6" height="11" rx="0.6" stroke="#2a2a2a" stroke-width="0.75" fill="none"/>
<rect x="89.6" y="384.3" width="7.8" height="8.2" stroke="#555" stroke-width="0.5" fill="none"/>
<text transform="translate(93.5 392.1) scale(0.8 1)" x="0" y="0" font-size="10.6" text-anchor="middle" fill="#333" stroke="#333" stroke-width="0.3" class="lat">P</text>
<rect x="110.5" y="388.3" width="10.6" height="11" rx="0.6" stroke="#2a2a2a" stroke-width="0.75" fill="none"/>
<rect x="111.9" y="389.7" width="7.8" height="8.2" stroke="#555" stroke-width="0.5" fill="none"/>
<text transform="translate(115.8 397.5) scale(0.8 1)" x="0" y="0" font-size="10.6" text-anchor="middle" fill="#333" stroke="#333" stroke-width="0.3" class="lat">A</text>
<path d="M53.2 436.7 L57.2 436.7 L60.4 439.5 L55.6 439.5 Z" stroke="#222" stroke-width="0.88" fill="#777"/>
<path d="M133.8 436.7 L129.8 436.7 L126.6 439.5 L131.4 439.5 Z" stroke="#222" stroke-width="0.88" fill="#777"/>
<rect x="42.7" y="387.8" width="9.3" height="33.9" rx="2.2" stroke="#222" stroke-width="0.94" fill="none"/>
<line x1="42.7" y1="396.3" x2="52" y2="396.3" stroke="#222" stroke-width="0.75"/>
<line x1="42.7" y1="413" x2="52" y2="413" stroke="#222" stroke-width="0.75"/>
<g transform="translate(135 404.7) scale(1 1)">
<path d="M0 -37.4 L0 26.4 L39.5 24.2 Q41.5 24 41.5 22 L41.5 -30 Q41.5 -32.2 39.5 -32.2 L28.6 -32.6 L28.6 -37.4" stroke="#222" stroke-width="1" fill="none"/>
<line x1="0" y1="-33.8" x2="28.6" y2="-32.6" stroke="#222" stroke-width="0.75"/>
<line x1="0.4" y1="-26.3" x2="41.2" y2="-24" stroke="#222" stroke-width="0.75"/>
<line x1="0.4" y1="-23.4" x2="41.2" y2="-21.4" stroke="#222" stroke-width="0.75"/>
<line x1="0.4" y1="23.4" x2="41.2" y2="21.8" stroke="#222" stroke-width="0.75"/>
<rect x="41.5" y="-14.8" width="6.2" height="29.6" stroke="#222" stroke-width="0.88" fill="none"/>
<rect x="47.7" y="-14.8" width="11.3" height="29.6" stroke="#222" stroke-width="0.62" fill="#262626"/>
<path d="M59 -14.8 L60.6 -14.8 L65.4 -11.6 Q65.9 -11.2 65.9 -10.4 L65.9 10.4 Q65.9 11.2 65.4 11.6 L60.6 14.8 L59 14.8" stroke="#222" stroke-width="1" fill="none"/>
</g>
<g transform="translate(137.6 335.2) scale(1 1)">
<rect x="0" y="0" width="24.4" height="27.6" rx="0.8" stroke="#222" stroke-width="0.94" fill="none"/>
<line x1="0.3" y1="5.6" x2="24.1" y2="5.6" stroke="#333" stroke-width="0.78"/>
<line x1="0.3" y1="7.7" x2="24.1" y2="7.7" stroke="#333" stroke-width="0.78"/>
<line x1="0.3" y1="9.4" x2="24.1" y2="9.4" stroke="#333" stroke-width="0.78"/>
<line x1="0.3" y1="11.3" x2="24.1" y2="11.3" stroke="#333" stroke-width="0.78"/>
<line x1="0.3" y1="13.2" x2="24.1" y2="13.2" stroke="#333" stroke-width="0.78"/>
<line x1="0.3" y1="15.1" x2="24.1" y2="15.1" stroke="#333" stroke-width="0.78"/>
<line x1="0.3" y1="17" x2="24.1" y2="17" stroke="#333" stroke-width="0.78"/>
<line x1="0" y1="19.8" x2="24.4" y2="19.8" stroke="#222" stroke-width="0.88"/>
<rect x="-1" y="27.6" width="26.6" height="4.2" stroke="#222" stroke-width="0.38" fill="#262626"/>
<path d="M24.4 0.9 L37.6 0.9 Q38.6 0.9 38.6 1.9 L38.6 19 Q38.6 20 37.6 20 L24.4 20" stroke="#222" stroke-width="0.94" fill="none"/>
<rect x="38.6" y="3.2" width="2.6" height="14.6" stroke="#222" stroke-width="0.75" fill="none"/>
<rect x="41.2" y="0.6" width="5.4" height="20" rx="1.2" stroke="#222" stroke-width="1" fill="none"/>
<line x1="41.2" y1="5.4" x2="46.6" y2="5.4" stroke="#222" stroke-width="0.62"/>
<line x1="41.2" y1="15.4" x2="46.6" y2="15.4" stroke="#222" stroke-width="0.62"/>
</g>
<line x1="41" y1="404.7" x2="202" y2="404.7" stroke="#222" stroke-width="0.75" stroke-dasharray="22 1.6 1.8 1.6"/>
<line x1="26.3" y1="413" x2="64" y2="413" stroke="#222" stroke-width="0.75"/>
<line x1="26.3" y1="439.9" x2="52" y2="439.9" stroke="#222" stroke-width="0.75"/>
<line x1="27.8" y1="413" x2="27.8" y2="439.9" stroke="#222" stroke-width="0.75"/>
<polygon points="27.8,413 26.95,416.5 28.65,416.5" fill="#222"/>
<polygon points="27.8,439.9 26.95,436.4 28.65,436.4" fill="#222"/>
<text x="26" y="426.45" font-size="6.5" text-anchor="middle" fill="#1c1c1c" stroke="#1c1c1c" stroke-width="0.18" class="dim" transform="rotate(-90 26 426.45)" textLength="10.37" lengthAdjust="spacingAndGlyphs">30.5</text>
<line x1="42.7" y1="421.7" x2="42.7" y2="468" stroke="#222" stroke-width="0.75"/>
<line x1="52" y1="439.9" x2="52" y2="455" stroke="#222" stroke-width="0.94"/>
<line x1="135" y1="439.9" x2="135" y2="455" stroke="#222" stroke-width="0.94"/>
<line x1="200.9" y1="415.7" x2="200.9" y2="468" stroke="#222" stroke-width="0.75"/>
<line x1="31" y1="453.6" x2="200.9" y2="453.6" stroke="#222" stroke-width="0.75"/>
<polygon points="42.7,453.6 39.2,452.75 39.2,454.45" fill="#222"/>
<polygon points="52,453.6 55.5,452.75 55.5,454.45" fill="#222"/>
<polygon points="135,453.6 131.5,452.75 131.5,454.45" fill="#222"/>
<polygon points="135,453.6 138.5,452.75 138.5,454.45" fill="#222"/>
<polygon points="200.9,453.6 197.4,452.75 197.4,454.45" fill="#222"/>
<text x="34.8" y="451.9" font-size="6.5" text-anchor="middle" fill="#1c1c1c" stroke="#1c1c1c" stroke-width="0.18" class="dim" textLength="5.93" lengthAdjust="spacingAndGlyphs">10</text>
<text x="93.9" y="451.9" font-size="6.5" text-anchor="middle" fill="#1c1c1c" stroke="#1c1c1c" stroke-width="0.18" class="dim" textLength="10.37" lengthAdjust="spacingAndGlyphs">92.2</text>
<text x="167.8" y="451.9" font-size="6.5" text-anchor="middle" fill="#1c1c1c" stroke="#1c1c1c" stroke-width="0.18" class="dim" textLength="5.93" lengthAdjust="spacingAndGlyphs">73</text>
<line x1="42.7" y1="466.3" x2="200.9" y2="466.3" stroke="#222" stroke-width="0.75"/>
<polygon points="42.7,466.3 46.2,465.45 46.2,467.15" fill="#222"/>
<polygon points="200.9,466.3 197.4,465.45 197.4,467.15" fill="#222"/>
<text x="118.5" y="464.7" font-size="6.5" text-anchor="middle" fill="#1c1c1c" stroke="#1c1c1c" stroke-width="0.18" class="dim" textLength="13.34" lengthAdjust="spacingAndGlyphs">175.2</text>
<text font-size="7.4" text-anchor="start" class="note"><tspan x="108.3" y="485.7" font-size="7.3" fill="#3a3a3a" textLength="15.2" lengthAdjust="spacing">质量</tspan><tspan x="124.1" y="485.7" font-size="7.5" fill="#444">: </tspan><tspan x="127.2" y="485.7" font-size="7.5" fill="#444" textLength="21.2" lengthAdjust="spacing">3.6Kg</tspan></text>
<rect x="320.5" y="335.3" width="25.1" height="26.7" stroke="#222" stroke-width="1" fill="none"/>
<rect x="319.4" y="362" width="27" height="4.4" stroke="#222" stroke-width="0.38" fill="#262626"/>
<polygon points="333,336 342.7,340.3 342.7,351.5 333,355.6 323.3,351.5 323.3,340.3" fill="none" stroke="#222" stroke-width="0.94" stroke-linejoin="round"/>
<circle cx="333" cy="345" r="5.9" stroke="#222" stroke-width="0.94" fill="none"/>
<line x1="301.6" y1="374.3" x2="301.6" y2="440.5" stroke="#222" stroke-width="1"/>
<line x1="364.9" y1="374.3" x2="364.9" y2="440.5" stroke="#222" stroke-width="1"/>
<line x1="301.6" y1="374.3" x2="319.6" y2="374.3" stroke="#222" stroke-width="1.12"/>
<line x1="346.4" y1="374.3" x2="364.9" y2="374.3" stroke="#222" stroke-width="1.12"/>
<line x1="301.6" y1="438.2" x2="364.9" y2="438.2" stroke="#222" stroke-width="1"/>
<line x1="301.6" y1="440.5" x2="364.9" y2="440.5" stroke="#222" stroke-width="1.12"/>
<rect x="309.6" y="372.3" width="5.2" height="2" rx="0.6" stroke="#222" stroke-width="0.75" fill="none"/>
<rect x="351.3" y="372.3" width="5.2" height="2" rx="0.6" stroke="#222" stroke-width="0.75" fill="none"/>
<path d="M319.6 366.8 L319.6 376.7 Q319.6 378.2 318.1 378.2 L303.7 378.2 Q301.9 378.2 301.9 380 L301.9 429.2 Q301.9 431 303.7 431 L361.9 431 Q363.7 431 363.7 429.2 L363.7 380 Q363.7 378.2 361.9 378.2 L347.9 378.2 Q346.4 378.2 346.4 376.7 L346.4 366.8" stroke="#222" stroke-width="0.94" fill="none"/>
<path d="M318.45 377.3 L318.45 379 Q318.45 380.5 316.95 380.5 L306 380.5 Q304.2 380.5 304.2 382.3 L304.2 426.9 Q304.2 428.7 306 428.7 L359.6 428.7 Q361.4 428.7 361.4 426.9 L361.4 382.3 Q361.4 380.5 359.6 380.5 L349.05 380.5 Q347.55 380.5 347.55 379 L347.55 377.3" stroke="#222" stroke-width="0.75" fill="none"/>
<line x1="303.5" y1="379.3" x2="317.8" y2="379.3" stroke="#555" stroke-width="1"/>
<line x1="348.2" y1="379.3" x2="362" y2="379.3" stroke="#555" stroke-width="1"/>
<circle cx="333" cy="404.8" r="14.6" stroke="#1a1a1a" stroke-width="1.5" fill="none"/>
<circle cx="333" cy="404.8" r="11.6" stroke="#222" stroke-width="0.75" fill="none"/>
<circle cx="333" cy="404.8" r="7.5" stroke="#222" stroke-width="0.75" fill="none"/>
<circle cx="333" cy="404.8" r="3" stroke="#222" stroke-width="1" fill="none"/>
<circle cx="333" cy="404.8" r="1.3" stroke="#222" stroke-width="0.75" fill="none"/>
<line x1="333" y1="332.3" x2="333" y2="452.5" stroke="#555" stroke-width="0.62" stroke-dasharray="24 1.6 1.8 1.6"/>
<line x1="298.8" y1="404.8" x2="367.1" y2="404.8" stroke="#444" stroke-width="0.69" stroke-dasharray="24 1.6 1.8 1.6"/>
<path d="M302.6 438.5 L307.6 440.2" stroke="#222" stroke-width="0.75" fill="none"/>
<path d="M363.9 438.5 L358.9 440.2" stroke="#222" stroke-width="0.75" fill="none"/>
<line x1="345.5" y1="335.3" x2="393.3" y2="335.3" stroke="#222" stroke-width="0.75"/>
<line x1="346.8" y1="366.6" x2="380.2" y2="366.6" stroke="#222" stroke-width="0.75"/>
<line x1="364.9" y1="374.3" x2="380.2" y2="374.3" stroke="#222" stroke-width="0.75"/>
<line x1="364.9" y1="440.5" x2="393.3" y2="440.5" stroke="#222" stroke-width="0.75"/>
<line x1="379" y1="335.3" x2="379" y2="366.6" stroke="#222" stroke-width="0.75"/>
<polygon points="379,335.3 378.15,338.8 379.85,338.8" fill="#222"/>
<polygon points="379,366.6 378.15,363.1 379.85,363.1" fill="#222"/>
<text x="376.8" y="350.95" font-size="6.5" text-anchor="middle" fill="#1c1c1c" stroke="#1c1c1c" stroke-width="0.18" class="dim" transform="rotate(-90 376.8 350.95)" textLength="5.93" lengthAdjust="spacingAndGlyphs">35</text>
<line x1="379" y1="374.3" x2="379" y2="440.5" stroke="#222" stroke-width="0.75"/>
<polygon points="379,374.3 378.15,377.8 379.85,377.8" fill="#222"/>
<polygon points="379,440.5 378.15,437 379.85,437" fill="#222"/>
<text x="376.8" y="404.2" font-size="6.5" text-anchor="middle" fill="#1c1c1c" stroke="#1c1c1c" stroke-width="0.18" class="dim" transform="rotate(-90 376.8 404.2)" textLength="5.93" lengthAdjust="spacingAndGlyphs">73</text>
<line x1="391.6" y1="335.3" x2="391.6" y2="440.5" stroke="#222" stroke-width="0.75"/>
<polygon points="391.6,335.3 390.75,338.8 392.45,338.8" fill="#222"/>
<polygon points="391.6,440.5 390.75,437 392.45,437" fill="#222"/>
<text x="389.6" y="381.9" font-size="6.5" text-anchor="middle" fill="#1c1c1c" stroke="#1c1c1c" stroke-width="0.18" class="dim" transform="rotate(-90 389.6 381.9)" textLength="13.34" lengthAdjust="spacingAndGlyphs">114.5</text>
<line x1="301.6" y1="440.5" x2="301.6" y2="463.3" stroke="#222" stroke-width="0.75"/>
<line x1="364.9" y1="440.5" x2="364.9" y2="463.3" stroke="#222" stroke-width="0.75"/>
<line x1="301.6" y1="451.3" x2="364.9" y2="451.3" stroke="#222" stroke-width="0.75"/>
<polygon points="301.6,451.3 305.1,450.45 305.1,452.15" fill="#222"/>
<polygon points="364.9,451.3 361.4,450.45 361.4,452.15" fill="#222"/>
<polygon points="333,451.3 336.5,450.45 336.5,452.15" fill="#222"/>
<polygon points="333,451.3 329.5,450.45 329.5,452.15" fill="#222"/>
<text x="321.6" y="448.9" font-size="4.5" text-anchor="middle" fill="#1c1c1c" stroke="#1c1c1c" stroke-width="0.18" class="dim" textLength="2.15" lengthAdjust="spacingAndGlyphs">=</text>
<text x="348.6" y="448.9" font-size="4.5" text-anchor="middle" fill="#1c1c1c" stroke="#1c1c1c" stroke-width="0.18" class="dim" textLength="2.15" lengthAdjust="spacingAndGlyphs">=</text>
<line x1="301.6" y1="462.3" x2="364.9" y2="462.3" stroke="#222" stroke-width="0.75"/>
<polygon points="301.6,462.3 305.1,461.45 305.1,463.15" fill="#222"/>
<polygon points="364.9,462.3 361.4,461.45 361.4,463.15" fill="#222"/>
<text x="333.25" y="460.3" font-size="6.5" text-anchor="middle" fill="#1c1c1c" stroke="#1c1c1c" stroke-width="0.18" class="dim" textLength="5.93" lengthAdjust="spacingAndGlyphs">70</text>
<line x1="501" y1="431.1" x2="501" y2="439.9" stroke="#222" stroke-width="0.94"/>
<line x1="584" y1="431.1" x2="584" y2="439.9" stroke="#222" stroke-width="0.94"/>
<line x1="500.7" y1="374.1" x2="584" y2="374.1" stroke="#222" stroke-width="1.62"/>
<line x1="501" y1="439.9" x2="584" y2="439.9" stroke="#222" stroke-width="1"/>
<rect x="529.8" y="372.2" width="4.6" height="1.9" rx="0.6" stroke="#222" stroke-width="0.75" fill="none"/>
<line x1="512.6" y1="375.6" x2="512.6" y2="413" stroke="#222" stroke-width="0.94" stroke-dasharray="3.6 1.8"/>
<line x1="523.6" y1="375.6" x2="523.6" y2="413" stroke="#222" stroke-width="0.94" stroke-dasharray="3.6 1.8"/>
<line x1="514.9" y1="414.2" x2="514.9" y2="439.9" stroke="#444" stroke-width="0.75" stroke-dasharray="3.6 1.8"/>
<line x1="521.3" y1="414.2" x2="521.3" y2="439.9" stroke="#444" stroke-width="0.75" stroke-dasharray="3.6 1.8"/>
<line x1="512.6" y1="413" x2="523.6" y2="413" stroke="#222" stroke-width="0.75"/>
<line x1="518.3" y1="374.1" x2="518.3" y2="443.1" stroke="#222" stroke-width="0.88"/>
<line x1="560.9" y1="375.6" x2="560.9" y2="413" stroke="#222" stroke-width="0.94" stroke-dasharray="3.6 1.8"/>
<line x1="571.9" y1="375.6" x2="571.9" y2="413" stroke="#222" stroke-width="0.94" stroke-dasharray="3.6 1.8"/>
<line x1="563.2" y1="414.2" x2="563.2" y2="439.9" stroke="#444" stroke-width="0.75" stroke-dasharray="3.6 1.8"/>
<line x1="569.6" y1="414.2" x2="569.6" y2="439.9" stroke="#444" stroke-width="0.75" stroke-dasharray="3.6 1.8"/>
<line x1="560.9" y1="413" x2="571.9" y2="413" stroke="#222" stroke-width="0.75"/>
<line x1="566.6" y1="374.1" x2="566.6" y2="443.1" stroke="#222" stroke-width="0.88"/>
<line x1="542.4" y1="369.7" x2="542.4" y2="443.1" stroke="#222" stroke-width="0.88"/>
<rect x="515.1" y="388.3" width="10.6" height="11" rx="0.6" stroke="#2a2a2a" stroke-width="0.75" fill="none"/>
<rect x="516.5" y="389.7" width="7.8" height="8.2" stroke="#555" stroke-width="0.5" fill="none"/>
<text transform="translate(520.4 397.5) scale(0.8 1)" x="0" y="0" font-size="10.6" text-anchor="middle" fill="#333" stroke="#333" stroke-width="0.3" class="lat">B</text>
<rect x="537.2" y="382.9" width="10.6" height="11" rx="0.6" stroke="#2a2a2a" stroke-width="0.75" fill="none"/>
<rect x="538.6" y="384.3" width="7.8" height="8.2" stroke="#555" stroke-width="0.5" fill="none"/>
<text transform="translate(542.5 392.1) scale(0.8 1)" x="0" y="0" font-size="10.6" text-anchor="middle" fill="#333" stroke="#333" stroke-width="0.3" class="lat">P</text>
<rect x="559.5" y="388.3" width="10.6" height="11" rx="0.6" stroke="#2a2a2a" stroke-width="0.75" fill="none"/>
<rect x="560.9" y="389.7" width="7.8" height="8.2" stroke="#555" stroke-width="0.5" fill="none"/>
<text transform="translate(564.8 397.5) scale(0.8 1)" x="0" y="0" font-size="10.6" text-anchor="middle" fill="#333" stroke="#333" stroke-width="0.3" class="lat">A</text>
<path d="M502.2 436.7 L506.2 436.7 L509.4 439.5 L504.6 439.5 Z" stroke="#222" stroke-width="0.88" fill="#777"/>
<path d="M582.8 436.7 L578.8 436.7 L575.6 439.5 L580.4 439.5 Z" stroke="#222" stroke-width="0.88" fill="#777"/>
<g transform="translate(501 404.7) scale(-1 1)">
<path d="M0 -37.4 L0 26.4 L39.5 24.2 Q41.5 24 41.5 22 L41.5 -30 Q41.5 -32.2 39.5 -32.2 L28.6 -32.6 L28.6 -37.4" stroke="#222" stroke-width="1" fill="none"/>
<line x1="0" y1="-33.8" x2="28.6" y2="-32.6" stroke="#222" stroke-width="0.75"/>
<line x1="0.4" y1="-26.3" x2="41.2" y2="-24" stroke="#222" stroke-width="0.75"/>
<line x1="0.4" y1="-23.4" x2="41.2" y2="-21.4" stroke="#222" stroke-width="0.75"/>
<line x1="0.4" y1="23.4" x2="41.2" y2="21.8" stroke="#222" stroke-width="0.75"/>
<rect x="41.5" y="-14.8" width="6.2" height="29.6" stroke="#222" stroke-width="0.88" fill="none"/>
<rect x="47.7" y="-14.8" width="11.3" height="29.6" stroke="#222" stroke-width="0.62" fill="#262626"/>
<path d="M59 -14.8 L60.6 -14.8 L65.4 -11.6 Q65.9 -11.2 65.9 -10.4 L65.9 10.4 Q65.9 11.2 65.4 11.6 L60.6 14.8 L59 14.8" stroke="#222" stroke-width="1" fill="none"/>
</g>
<g transform="translate(498.4 335.2) scale(-1 1)">
<rect x="0" y="0" width="24.4" height="27.6" rx="0.8" stroke="#222" stroke-width="0.94" fill="none"/>
<line x1="0.3" y1="5.6" x2="24.1" y2="5.6" stroke="#333" stroke-width="0.78"/>
<line x1="0.3" y1="7.7" x2="24.1" y2="7.7" stroke="#333" stroke-width="0.78"/>
<line x1="0.3" y1="9.4" x2="24.1" y2="9.4" stroke="#333" stroke-width="0.78"/>
<line x1="0.3" y1="11.3" x2="24.1" y2="11.3" stroke="#333" stroke-width="0.78"/>
<line x1="0.3" y1="13.2" x2="24.1" y2="13.2" stroke="#333" stroke-width="0.78"/>
<line x1="0.3" y1="15.1" x2="24.1" y2="15.1" stroke="#333" stroke-width="0.78"/>
<line x1="0.3" y1="17" x2="24.1" y2="17" stroke="#333" stroke-width="0.78"/>
<line x1="0" y1="19.8" x2="24.4" y2="19.8" stroke="#222" stroke-width="0.88"/>
<rect x="-1" y="27.6" width="26.6" height="4.2" stroke="#222" stroke-width="0.38" fill="#262626"/>
<path d="M24.4 0.9 L37.6 0.9 Q38.6 0.9 38.6 1.9 L38.6 19 Q38.6 20 37.6 20 L24.4 20" stroke="#222" stroke-width="0.94" fill="none"/>
<rect x="38.6" y="3.2" width="2.6" height="14.6" stroke="#222" stroke-width="0.75" fill="none"/>
<rect x="41.2" y="0.6" width="5.4" height="20" rx="1.2" stroke="#222" stroke-width="1" fill="none"/>
<line x1="41.2" y1="5.4" x2="46.6" y2="5.4" stroke="#222" stroke-width="0.62"/>
<line x1="41.2" y1="15.4" x2="46.6" y2="15.4" stroke="#222" stroke-width="0.62"/>
</g>
<g transform="translate(584 404.7) scale(1 1)">
<path d="M0 -37.4 L0 26.4 L39.5 24.2 Q41.5 24 41.5 22 L41.5 -30 Q41.5 -32.2 39.5 -32.2 L28.6 -32.6 L28.6 -37.4" stroke="#222" stroke-width="1" fill="none"/>
<line x1="0" y1="-33.8" x2="28.6" y2="-32.6" stroke="#222" stroke-width="0.75"/>
<line x1="0.4" y1="-26.3" x2="41.2" y2="-24" stroke="#222" stroke-width="0.75"/>
<line x1="0.4" y1="-23.4" x2="41.2" y2="-21.4" stroke="#222" stroke-width="0.75"/>
<line x1="0.4" y1="23.4" x2="41.2" y2="21.8" stroke="#222" stroke-width="0.75"/>
<rect x="41.5" y="-14.8" width="6.2" height="29.6" stroke="#222" stroke-width="0.88" fill="none"/>
<rect x="47.7" y="-14.8" width="11.3" height="29.6" stroke="#222" stroke-width="0.62" fill="#262626"/>
<path d="M59 -14.8 L60.6 -14.8 L65.4 -11.6 Q65.9 -11.2 65.9 -10.4 L65.9 10.4 Q65.9 11.2 65.4 11.6 L60.6 14.8 L59 14.8" stroke="#222" stroke-width="1" fill="none"/>
</g>
<g transform="translate(586.6 335.2) scale(1 1)">
<rect x="0" y="0" width="24.4" height="27.6" rx="0.8" stroke="#222" stroke-width="0.94" fill="none"/>
<line x1="0.3" y1="5.6" x2="24.1" y2="5.6" stroke="#333" stroke-width="0.78"/>
<line x1="0.3" y1="7.7" x2="24.1" y2="7.7" stroke="#333" stroke-width="0.78"/>
<line x1="0.3" y1="9.4" x2="24.1" y2="9.4" stroke="#333" stroke-width="0.78"/>
<line x1="0.3" y1="11.3" x2="24.1" y2="11.3" stroke="#333" stroke-width="0.78"/>
<line x1="0.3" y1="13.2" x2="24.1" y2="13.2" stroke="#333" stroke-width="0.78"/>
<line x1="0.3" y1="15.1" x2="24.1" y2="15.1" stroke="#333" stroke-width="0.78"/>
<line x1="0.3" y1="17" x2="24.1" y2="17" stroke="#333" stroke-width="0.78"/>
<line x1="0" y1="19.8" x2="24.4" y2="19.8" stroke="#222" stroke-width="0.88"/>
<rect x="-1" y="27.6" width="26.6" height="4.2" stroke="#222" stroke-width="0.38" fill="#262626"/>
<path d="M24.4 0.9 L37.6 0.9 Q38.6 0.9 38.6 1.9 L38.6 19 Q38.6 20 37.6 20 L24.4 20" stroke="#222" stroke-width="0.94" fill="none"/>
<rect x="38.6" y="3.2" width="2.6" height="14.6" stroke="#222" stroke-width="0.75" fill="none"/>
<rect x="41.2" y="0.6" width="5.4" height="20" rx="1.2" stroke="#222" stroke-width="1" fill="none"/>
<line x1="41.2" y1="5.4" x2="46.6" y2="5.4" stroke="#222" stroke-width="0.62"/>
<line x1="41.2" y1="15.4" x2="46.6" y2="15.4" stroke="#222" stroke-width="0.62"/>
</g>
<line x1="433" y1="404.7" x2="652" y2="404.7" stroke="#222" stroke-width="0.75" stroke-dasharray="22 1.6 1.8 1.6"/>
<line x1="435.1" y1="415.7" x2="435.1" y2="455" stroke="#222" stroke-width="0.75"/>
<line x1="501" y1="439.9" x2="501" y2="455" stroke="#222" stroke-width="0.75"/>
<line x1="584" y1="439.9" x2="584" y2="455" stroke="#222" stroke-width="0.75"/>
<line x1="649.9" y1="415.7" x2="649.9" y2="455" stroke="#222" stroke-width="0.75"/>
<line x1="435.1" y1="453.6" x2="649.9" y2="453.6" stroke="#222" stroke-width="0.75"/>
<polygon points="435.1,453.6 438.6,452.75 438.6,454.45" fill="#222"/>
<polygon points="501,453.6 497.5,452.75 497.5,454.45" fill="#222"/>
<polygon points="501,453.6 504.5,452.75 504.5,454.45" fill="#222"/>
<polygon points="584,453.6 580.5,452.75 580.5,454.45" fill="#222"/>
<polygon points="584,453.6 587.5,452.75 587.5,454.45" fill="#222"/>
<polygon points="649.9,453.6 646.4,452.75 646.4,454.45" fill="#222"/>
<text x="468.5" y="451.9" font-size="6.5" text-anchor="middle" fill="#1c1c1c" stroke="#1c1c1c" stroke-width="0.18" class="dim" textLength="5.93" lengthAdjust="spacingAndGlyphs">73</text>
<text x="542.5" y="451.9" font-size="6.5" text-anchor="middle" fill="#1c1c1c" stroke="#1c1c1c" stroke-width="0.18" class="dim" textLength="10.37" lengthAdjust="spacingAndGlyphs">92.2</text>
<text x="617" y="451.9" font-size="6.5" text-anchor="middle" fill="#1c1c1c" stroke="#1c1c1c" stroke-width="0.18" class="dim" textLength="5.93" lengthAdjust="spacingAndGlyphs">73</text>
<text font-size="7.4" text-anchor="start" class="note"><tspan x="533.3" y="477.5" font-size="7.3" fill="#3a3a3a" textLength="15.2" lengthAdjust="spacing">质量</tspan><tspan x="549.1" y="477.5" font-size="7.5" fill="#444">: </tspan><tspan x="552.2" y="477.5" font-size="7.5" fill="#444" textLength="21.2" lengthAdjust="spacing">4.3Kg</tspan></text>
<rect x="115.5" y="544" width="83.3" height="63.5" stroke="#222" stroke-width="1.12" fill="none"/>
<path d="M121.8 545.1 L191.9 545.1 L196.5 549.7 L196.5 601.6 L191.9 606.2 L121.8 606.2 L117.2 601.6 L117.2 549.7 Z" stroke="#222" stroke-width="0.75" fill="none"/>
<circle cx="132.7" cy="554.6" r="3" stroke="#222" stroke-width="0.88" fill="none"/>
<circle cx="132.7" cy="596.5" r="3" stroke="#222" stroke-width="0.88" fill="none"/>
<circle cx="181.3" cy="554.6" r="3" stroke="#222" stroke-width="0.88" fill="none"/>
<circle cx="181.3" cy="596.5" r="3" stroke="#222" stroke-width="0.88" fill="none"/>
<circle cx="157.4" cy="560.2" r="7" stroke="#222" stroke-width="1" fill="none"/>
<circle cx="157.4" cy="560.2" r="4.9" stroke="#222" stroke-width="1" fill="none"/>
<circle cx="147.6" cy="573.7" r="7" stroke="#222" stroke-width="1" fill="none"/>
<circle cx="147.6" cy="573.7" r="4.9" stroke="#222" stroke-width="1" fill="none"/>
<circle cx="166.5" cy="573.7" r="7" stroke="#222" stroke-width="1" fill="none"/>
<circle cx="166.5" cy="573.7" r="4.9" stroke="#222" stroke-width="1" fill="none"/>
<circle cx="135.5" cy="584" r="7" stroke="#222" stroke-width="1" fill="none"/>
<circle cx="135.5" cy="584" r="4.9" stroke="#222" stroke-width="1" fill="none"/>
<circle cx="179.1" cy="584" r="7" stroke="#222" stroke-width="1" fill="none"/>
<circle cx="179.1" cy="584" r="4.9" stroke="#222" stroke-width="1" fill="none"/>
<text transform="translate(163.2 553.6) scale(0.8 1)" x="0" y="0" font-size="8.8" text-anchor="middle" fill="#1a1a1a" stroke="#1a1a1a" stroke-width="0.3" font-weight="bold" class="lat">P</text>
<text transform="translate(139.7 568.4) scale(0.8 1)" x="0" y="0" font-size="8.8" text-anchor="middle" fill="#1a1a1a" stroke="#1a1a1a" stroke-width="0.3" font-weight="bold" class="lat">B</text>
<text transform="translate(174.7 568.4) scale(0.8 1)" x="0" y="0" font-size="8.8" text-anchor="middle" fill="#1a1a1a" stroke="#1a1a1a" stroke-width="0.3" font-weight="bold" class="lat">A</text>
<text transform="translate(125.6 581.8) scale(0.8 1)" x="0" y="0" font-size="8.8" text-anchor="middle" fill="#1a1a1a" stroke="#1a1a1a" stroke-width="0.3" font-weight="bold" class="lat">T</text>
<text transform="translate(189.3 581.4) scale(0.8 1)" x="0" y="0" font-size="8.8" text-anchor="middle" fill="#1a1a1a" stroke="#1a1a1a" stroke-width="0.3" font-weight="bold" class="lat">T</text>
<line x1="58.7" y1="554.6" x2="185.3" y2="554.6" stroke="#222" stroke-width="0.75"/>
<line x1="95.5" y1="560.6" x2="165" y2="560.6" stroke="#222" stroke-width="0.75"/>
<line x1="81.5" y1="573.7" x2="154.5" y2="573.7" stroke="#222" stroke-width="0.75"/>
<line x1="70.2" y1="584.2" x2="144" y2="584.2" stroke="#222" stroke-width="0.75"/>
<line x1="171.8" y1="584.2" x2="186.6" y2="584.2" stroke="#222" stroke-width="0.75"/>
<line x1="115.5" y1="590.3" x2="196.5" y2="590.3" stroke="#222" stroke-width="0.75"/>
<line x1="58.7" y1="596.5" x2="132.7" y2="596.5" stroke="#222" stroke-width="0.75"/>
<line x1="132.7" y1="596.5" x2="185.3" y2="596.5" stroke="#222" stroke-width="0.75" stroke-dasharray="14 1.6 1.8 1.6"/>
<line x1="132.7" y1="551.1" x2="132.7" y2="672" stroke="#222" stroke-width="0.75"/>
<line x1="135.5" y1="576" x2="135.5" y2="662.5" stroke="#222" stroke-width="0.75"/>
<line x1="147.6" y1="566" x2="147.6" y2="652.5" stroke="#222" stroke-width="0.75"/>
<line x1="157.4" y1="551" x2="157.4" y2="640.8" stroke="#222" stroke-width="0.75"/>
<line x1="166.5" y1="565" x2="166.5" y2="631.6" stroke="#222" stroke-width="0.75"/>
<line x1="179.1" y1="575" x2="179.1" y2="621" stroke="#222" stroke-width="0.75"/>
<line x1="181.3" y1="551.1" x2="181.3" y2="672" stroke="#222" stroke-width="0.75"/>
<line x1="60.5" y1="554.6" x2="60.5" y2="596.5" stroke="#222" stroke-width="0.75"/>
<polygon points="60.5,554.6 59.65,558.1 61.35,558.1" fill="#222"/>
<polygon points="60.5,596.5 59.65,593 61.35,593" fill="#222"/>
<text x="58.6" y="575.55" font-size="6.5" text-anchor="middle" fill="#1c1c1c" stroke="#1c1c1c" stroke-width="0.18" class="dim" transform="rotate(-90 58.6 575.55)" textLength="5.93" lengthAdjust="spacingAndGlyphs">46</text>
<line x1="71.9" y1="554.6" x2="71.9" y2="584.2" stroke="#222" stroke-width="0.75"/>
<polygon points="71.9,554.6 71.05,558.1 72.75,558.1" fill="#222"/>
<polygon points="71.9,584.2 71.05,580.7 72.75,580.7" fill="#222"/>
<text x="70" y="569.4" font-size="6.5" text-anchor="middle" fill="#1c1c1c" stroke="#1c1c1c" stroke-width="0.18" class="dim" transform="rotate(-90 70 569.4)" textLength="10.37" lengthAdjust="spacingAndGlyphs">37.5</text>
<line x1="83.2" y1="554.6" x2="83.2" y2="573.7" stroke="#222" stroke-width="0.75"/>
<polygon points="83.2,554.6 82.35,558.1 84.05,558.1" fill="#222"/>
<polygon points="83.2,573.7 82.35,570.2 84.05,570.2" fill="#222"/>
<text x="81.2" y="564.15" font-size="6.5" text-anchor="middle" fill="#1c1c1c" stroke="#1c1c1c" stroke-width="0.18" class="dim" transform="rotate(-90 81.2 564.15)" textLength="10.37" lengthAdjust="spacingAndGlyphs">21.4</text>
<line x1="96.9" y1="550" x2="96.9" y2="567.4" stroke="#222" stroke-width="0.75"/>
<polygon points="96.9,554.6 96.05,551.1 97.75,551.1" fill="#222"/>
<polygon points="96.9,560.6 96.05,564.1 97.75,564.1" fill="#222"/>
<text x="95.8" y="543.8" font-size="6.5" text-anchor="middle" fill="#1c1c1c" stroke="#1c1c1c" stroke-width="0.18" class="dim" transform="rotate(-90 95.8 543.8)" textLength="7.41" lengthAdjust="spacingAndGlyphs">6.3</text>
<line x1="173.5" y1="618.5" x2="187" y2="618.5" stroke="#222" stroke-width="0.75"/>
<polygon points="179.1,618.5 175.6,617.65 175.6,619.35" fill="#222"/>
<polygon points="181.3,618.5 184.8,617.65 184.8,619.35" fill="#222"/>
<text x="190.6" y="616.8" font-size="6.5" text-anchor="middle" fill="#1c1c1c" stroke="#1c1c1c" stroke-width="0.18" class="dim" textLength="7.41" lengthAdjust="spacingAndGlyphs">3.2</text>
<line x1="166.5" y1="630.5" x2="181.3" y2="630.5" stroke="#222" stroke-width="0.75"/>
<polygon points="166.5,630.5 170,629.65 170,631.35" fill="#222"/>
<polygon points="181.3,630.5 177.8,629.65 177.8,631.35" fill="#222"/>
<text x="173.6" y="629.2" font-size="6.5" text-anchor="middle" fill="#1c1c1c" stroke="#1c1c1c" stroke-width="0.18" class="dim" textLength="10.37" lengthAdjust="spacingAndGlyphs">16.7</text>
<line x1="157.4" y1="639.5" x2="181.3" y2="639.5" stroke="#222" stroke-width="0.75"/>
<polygon points="157.4,639.5 160.9,638.65 160.9,640.35" fill="#222"/>
<polygon points="181.3,639.5 177.8,638.65 177.8,640.35" fill="#222"/>
<text x="170.4" y="638.3" font-size="6.5" text-anchor="middle" fill="#1c1c1c" stroke="#1c1c1c" stroke-width="0.18" class="dim" textLength="5.93" lengthAdjust="spacingAndGlyphs">27</text>
<line x1="147.6" y1="651.3" x2="181.3" y2="651.3" stroke="#222" stroke-width="0.75"/>
<polygon points="147.6,651.3 151.1,650.45 151.1,652.15" fill="#222"/>
<polygon points="181.3,651.3 177.8,650.45 177.8,652.15" fill="#222"/>
<text x="166" y="649.9" font-size="6.5" text-anchor="middle" fill="#1c1c1c" stroke="#1c1c1c" stroke-width="0.18" class="dim" textLength="10.37" lengthAdjust="spacingAndGlyphs">37.3</text>
<line x1="135.5" y1="661.2" x2="181.3" y2="661.2" stroke="#222" stroke-width="0.75"/>
<polygon points="135.5,661.2 139,660.35 139,662.05" fill="#222"/>
<polygon points="181.3,661.2 177.8,660.35 177.8,662.05" fill="#222"/>
<text x="159.4" y="659.9" font-size="6.5" text-anchor="middle" fill="#1c1c1c" stroke="#1c1c1c" stroke-width="0.18" class="dim" textLength="10.37" lengthAdjust="spacingAndGlyphs">50.8</text>
<line x1="132.7" y1="670.7" x2="181.3" y2="670.7" stroke="#222" stroke-width="0.75"/>
<polygon points="132.7,670.7 136.2,669.85 136.2,671.55" fill="#222"/>
<polygon points="181.3,670.7 177.8,669.85 177.8,671.55" fill="#222"/>
<text x="156.8" y="669.4" font-size="6.5" text-anchor="middle" fill="#1c1c1c" stroke="#1c1c1c" stroke-width="0.18" class="dim" textLength="5.93" lengthAdjust="spacingAndGlyphs">54</text>
<line x1="187.6" y1="542.2" x2="177.8" y2="561.5" stroke="#222" stroke-width="0.75"/>
<text x="194.4" y="535.4" font-size="5.8" text-anchor="middle" fill="#1c1c1c" stroke="#1c1c1c" stroke-width="0.18" class="dim" textLength="5.55" lengthAdjust="spacingAndGlyphs">ø7</text>
<text font-size="10.5" text-anchor="start" class="note"><tspan x="390.4" y="533.7" fill="#484848" letter-spacing="0.4">安装界面：</tspan></text>
<text font-size="10.5" text-anchor="start" class="note"><tspan x="390.8" y="546.57" fill="#555" textLength="99.8" lengthAdjust="spacing">ISO 4401-AC-05-4</tspan><tspan x="490.3" y="546.97" fill="#484848" letter-spacing="0.4">标准，</tspan><tspan x="523.8" y="546.57" fill="#555" textLength="9.8" lengthAdjust="spacingAndGlyphs">10</tspan><tspan x="533.3" y="546.97" fill="#484848" letter-spacing="0.4">通径</tspan></text>
<text font-size="10.5" text-anchor="start" class="note"><tspan x="390.4" y="560.24" fill="#484848" letter-spacing="0.4">紧固螺钉：需单独订货</tspan></text>
<text font-size="10.5" text-anchor="start" class="note"><tspan x="390.7" y="573.11" fill="#555" textLength="107.8" lengthAdjust="spacing">4-M6 40DIN912-10.9</tspan></text>
<text font-size="10.5" text-anchor="start" class="note"><tspan x="390.4" y="586.78" fill="#484848" letter-spacing="0.4">拧紧扭矩：</tspan><tspan x="442.4" y="586.38" fill="#555" textLength="37.2" lengthAdjust="spacing">15.5Nm</tspan></text>
<text font-size="10.5" text-anchor="start" class="note"><tspan x="390.4" y="600.05" fill="#484848" letter-spacing="0.4">密封圈：</tspan><tspan x="434.1" y="599.65" fill="#555">5</tspan><tspan x="439.8" y="600.05" fill="#484848" letter-spacing="0.4">个</tspan><tspan x="450.6" y="599.65" fill="#555" textLength="15.9" lengthAdjust="spacing">OR</tspan><tspan x="466.3" y="600.05" fill="#484848" letter-spacing="0.4">形圈</tspan><tspan x="487.8" y="599.65" fill="#555" textLength="23.6" lengthAdjust="spacing">2050</tspan></text>
<text font-size="10.5" text-anchor="start" class="note"><tspan x="390.3" y="612.92" fill="#555" textLength="36.7" lengthAdjust="spacing">P,A,B,T</tspan><tspan x="426.8" y="613.32" fill="#484848" letter-spacing="0.4">油口尺寸：</tspan><tspan x="481.6" y="612.92" fill="#555">Φ</tspan><tspan x="491" y="612.92" fill="#555">=</tspan><tspan x="498" y="612.92" fill="#555" textLength="42" lengthAdjust="spacing">11.5mm(</tspan><tspan x="540.5" y="613.32" fill="#484848" letter-spacing="0.4">最大</tspan><tspan x="562.7" y="612.92" fill="#555">)</tspan></text>
<text font-size="10.5" text-anchor="start" class="note"><tspan x="390.7" y="626.19" fill="#555" textLength="13.4" lengthAdjust="spacing">P=</tspan><tspan x="404.3" y="626.59" fill="#484848" letter-spacing="0.4">压力口</tspan></text>
<text font-size="10.5" text-anchor="start" class="note"><tspan x="391.2" y="639.46" fill="#555" textLength="24.3" lengthAdjust="spacing">A,B=</tspan><tspan x="415.3" y="639.86" fill="#484848" letter-spacing="0.4">工作口</tspan></text>
<text font-size="10.5" text-anchor="start" class="note"><tspan x="391.2" y="652.73" fill="#555" textLength="12.2" lengthAdjust="spacing">T=</tspan><tspan x="403.9" y="653.13" fill="#484848" letter-spacing="0.4">回油口</tspan></text>
</svg>
</body></html>
